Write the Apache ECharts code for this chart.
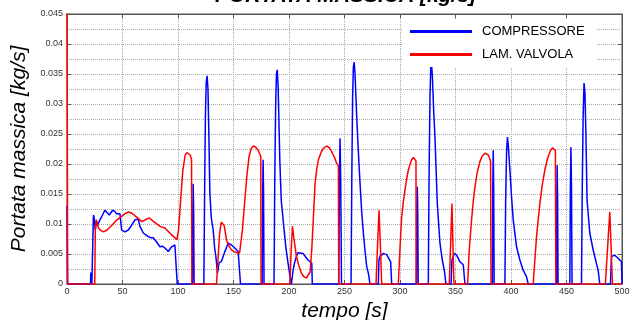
<!DOCTYPE html>
<html>
<head>
<meta charset="utf-8">
<script src="https://cdn.jsdelivr.net/npm/echarts@6/dist/echarts.min.js"></script>
<style>
  html, body { margin: 0; padding: 0; background: #fff; }
  #chart { width: 630px; height: 320px; }
</style>
</head>
<body>
<div id="chart"></div>
<script>
// [tempo s, portata kg/s]
const compressore = [
  [0, 0.013], [0.5, 0], [21.2, 0], [21.5, 0.0019], [22, 0.0019], [22.4, 0],
  [23.5, 0], [23.8, 0.0115], [24.5, 0.011], [25.5, 0.009], [26.5, 0.0105], [27.5, 0.0098],
  [29.7, 0.0107], [32, 0.0115], [34.2, 0.0123], [36, 0.0121], [38.1, 0.0115], [41.1, 0.0123],
  [43, 0.0121], [44.7, 0.0117], [47.7, 0.0117], [49.2, 0.009], [52.2, 0.0087], [55.2, 0.009],
  [58.2, 0.0098], [61.2, 0.0107], [64.2, 0.0108], [65.7, 0.0096], [68.7, 0.0085], [70.5, 0.0082],
  [73.2, 0.0079], [75.5, 0.0077], [77.7, 0.0077], [80.7, 0.007], [83.7, 0.0062], [86, 0.0063],
  [88.2, 0.006], [91.2, 0.0054], [94.2, 0.0062], [97.2, 0.0065], [98.7, 0.0062], [99.3, 0],
  [113, 0], [113.4, 0.012], [113.7, 0.0167], [114.1, 0.012], [114.5, 0],
  [123.3, 0], [124, 0.016], [124.7, 0.028], [125.4, 0.0335], [126.2, 0.0347], [127, 0.0325],
  [127.8, 0.025], [128.7, 0.0151], [130, 0.011], [131.7, 0.009], [133, 0.006], [134.1, 0.0046],
  [135.6, 0.0018], [137, 0.0035], [139.2, 0.0038], [140.5, 0.0045], [142.2, 0.0054], [145.2, 0.0068],
  [148.2, 0.0065], [151.2, 0.006], [154.2, 0.0054], [155.7, 0.0054], [156.3, 0],
  [175.8, 0], [176.3, 0.015], [176.7, 0.0207], [177.1, 0.015], [177.5, 0],
  [186.5, 0], [187.2, 0.018], [188, 0.03], [188.7, 0.035], [189.4, 0.0357], [190.2, 0.033],
  [191.7, 0.0207], [193, 0.014], [194.7, 0.0107], [197.1, 0.0062], [199.2, 0.0034], [200.7, 0.0015],
  [202.2, 0], [203.7, 0.0023], [205, 0.0035], [206.7, 0.0046], [208, 0.0052], [209.7, 0.0054],
  [212.7, 0.0051], [215, 0.0045], [217.2, 0.004], [219, 0.0037], [220.5, 0.0035], [221, 0],
  [244.8, 0], [245.4, 0.017], [246, 0.0243], [246.6, 0.017], [247.3, 0],
  [255.9, 0], [256.6, 0.018], [257.3, 0.031], [258, 0.0362], [258.7, 0.037], [259.5, 0.035],
  [261, 0.0279], [262.5, 0.022], [264, 0.0168], [265.5, 0.012], [267, 0.0085], [268.5, 0.0055],
  [270, 0.0029], [271.5, 0.0018], [273, 0],
  [280.5, 0], [281, 0.004], [282, 0.0046], [283.5, 0.0049], [285, 0.0051], [286.5, 0.0051],
  [288, 0.0049], [289.5, 0.0046], [291.6, 0.0037], [292.5, 0],
  [314.8, 0], [315.2, 0.012], [315.6, 0.0162], [316, 0.012], [316.4, 0],
  [325.5, 0], [326.2, 0.018], [327, 0.031], [327.7, 0.036], [328.4, 0.0367], [329.2, 0.0345],
  [330.3, 0.029], [331.5, 0.0245], [333.6, 0.0134], [336, 0.0068], [338.1, 0.004], [339.9, 0.0023],
  [341.4, 0],
  [346, 0], [346.8, 0.004], [348.9, 0.0051], [351, 0.0048], [354, 0.0037], [357, 0.0032], [358.5, 0],
  [383.2, 0], [383.6, 0.016], [384, 0.0223], [384.4, 0.016], [384.8, 0],
  [394.5, 0], [395.2, 0.014], [396, 0.022], [396.8, 0.0245], [397.6, 0.023], [399, 0.019],
  [400.5, 0.0145], [402, 0.0107], [405, 0.0062], [408, 0.004], [411, 0.0023], [414, 0.0012], [415.5, 0],
  [441, 0], [441.3, 0.014], [441.6, 0.0198], [442, 0.014], [442.4, 0],
  [453, 0], [453.5, 0.016], [454, 0.0228], [454.5, 0.016], [455, 0],
  [463.5, 0], [464.2, 0.016], [465, 0.028], [465.8, 0.0335], [466.6, 0.032], [467.5, 0.025],
  [468.5, 0.014], [471, 0.0085], [474, 0.0057], [477, 0.0034], [478.5, 0.0023], [480, 0],
  [489.6, 0], [490.5, 0.0046], [492, 0.0049], [493.5, 0.0048], [496.5, 0.0043], [499.5, 0.0037], [500, 0]
];

const valvola = [
  [0, 0.05], [0.6, 0], [25, 0], [25.5, 0.009], [26.3, 0.0107], [27, 0.0102], [28.5, 0.0093],
  [30.5, 0.0089], [33, 0.0087], [36, 0.009], [40.5, 0.0098], [45, 0.0107], [49.5, 0.0113],
  [53, 0.0118], [55.5, 0.012], [58.5, 0.0118], [63, 0.0111], [67.5, 0.0104], [70.5, 0.0107],
  [74.4, 0.011], [78, 0.0104], [84, 0.0096], [88.5, 0.0093], [93, 0.0084], [99, 0.0074],
  [100.5, 0.009], [102.6, 0.0146], [104.4, 0.019], [106.5, 0.0215], [108, 0.0219], [109.5, 0.0219],
  [111, 0.0215], [112.2, 0.0207], [112.5, 0],
  [134.7, 0], [136, 0.004], [137.5, 0.0085], [139, 0.0103], [140.1, 0.0106], [141.5, 0.0098],
  [143.7, 0.0073], [146, 0.0063], [148.2, 0.0057], [150.5, 0.0054], [153, 0.0052], [155.5, 0.0052],
  [158, 0.009], [160, 0.0135], [162, 0.018], [164, 0.0212], [166, 0.0226], [168, 0.023],
  [170, 0.0228], [172.5, 0.0222], [174.6, 0.0212], [174.8, 0],
  [200.8, 0], [201.8, 0.005], [203.1, 0.0096], [204.5, 0.0075], [206.7, 0.0046], [209, 0.003],
  [211.2, 0.0018], [213.5, 0.0012], [215.7, 0.001], [217.5, 0.0013], [219, 0.002], [220.5, 0.0057],
  [222, 0.0112], [223.5, 0.0168], [225, 0.0192], [226.5, 0.0207], [229, 0.022], [231, 0.0226],
  [234, 0.023], [236.5, 0.0227], [238.5, 0.022], [241, 0.0211], [243, 0.0201], [244.5, 0.0197], [244.8, 0],
  [278.4, 0], [279.8, 0.0065], [281.1, 0.0123], [282.3, 0.0065], [283.5, 0],
  [298.5, 0], [300, 0.006], [301.5, 0.0112], [303, 0.0137], [304.5, 0.0157], [306, 0.0175],
  [307.5, 0.019], [309, 0.0199], [310.5, 0.0207], [312, 0.0211], [313.5, 0.0212], [314.4, 0.0205], [314.5, 0],
  [344.4, 0], [345.6, 0.0065], [346.8, 0.0134], [347.7, 0.0065], [348.6, 0],
  [360.9, 0], [362.5, 0.006], [364.5, 0.0107], [366, 0.0138], [367.5, 0.0162], [369.5, 0.0185],
  [372, 0.0204], [374, 0.0213], [376.5, 0.0218], [378, 0.0218], [379.5, 0.0215], [380.7, 0.021],
  [381.6, 0.0204], [382, 0],
  [420, 0], [421.5, 0.004], [423, 0.0079], [426, 0.0134], [428, 0.0163], [430.5, 0.019],
  [433, 0.021], [435.5, 0.0222], [437.5, 0.0227], [439, 0.0226], [440, 0.0222], [440.4, 0],
  [485, 0], [487, 0.006], [489, 0.012], [490.2, 0.006], [491.4, 0], [500, 0]
];

const FONT = 'Liberation Sans, Arial, sans-serif';

const axisBase = {
  type: 'value',
  axisLine: { show: true, onZero: false, lineStyle: { color: '#555', width: 1 } },
  axisTick: { show: true, inside: true, length: 4, lineStyle: { color: '#555' } },
  axisLabel: { color: '#333', fontSize: 9, fontFamily: FONT },
  splitLine: { show: false },
};

const chart = echarts.init(document.getElementById('chart'));
chart.setOption({
  animation: false,
  title: {
    text: 'PORTATA MASSICA [kg/s]',
    left: 210,
    top: -19,
    textStyle: { fontSize: 21, fontWeight: 'bold', fontStyle: 'italic', color: '#000', fontFamily: FONT },
  },
  legend: {
    orient: 'vertical',
    left: 402,
    top: 19,
    icon: 'rect',
    itemWidth: 62,
    itemHeight: 3,
    itemGap: 10,
    padding: [6, 12, 6, 8],
    backgroundColor: '#fff',
    textStyle: { fontSize: 13, color: '#000', fontFamily: FONT, padding: [0, 0, 0, 5] },
    data: ['COMPRESSORE', 'LAM. VALVOLA'],
  },
  grid: {
    left: 67, right: 8, top: 14, bottom: 36,
    outerBoundsMode: 'none',
    containLabel: false,
    show: true, borderColor: '#555', borderWidth: 1, backgroundColor: '#fff',
  },
  xAxis: [
    {
      ...axisBase,
      min: 0, max: 500, interval: 50,
      name: 'tempo [s]',
      nameLocation: 'middle',
      nameGap: 17,
      nameTextStyle: { fontSize: 21, fontStyle: 'italic', color: '#000', fontFamily: FONT },
      axisLabel: { ...axisBase.axisLabel, margin: 3 },
      splitLine: { show: true, lineStyle: { type: 'dotted', color: '#aaa' } },
    },
    {
      ...axisBase, position: 'top',
      min: 0, max: 500, interval: 50,
      axisLabel: { show: false },
    },
  ],
  yAxis: [
    {
      ...axisBase,
      min: 0, max: 0.045, interval: 0.005,
      name: 'Portata massica [kg/s]',
      nameLocation: 'middle',
      nameGap: 34,
      nameTextStyle: { fontSize: 21, fontStyle: 'italic', color: '#000', fontFamily: FONT },
      axisLabel: { ...axisBase.axisLabel, margin: 4 },
      splitLine: { show: true, lineStyle: { type: 'dotted', color: '#aaa' } },
      minorTick: { show: false, splitNumber: 2 },
      minorSplitLine: { show: true, lineStyle: { type: 'dotted', color: '#aaa' } },
    },
    {
      ...axisBase, position: 'right',
      min: 0, max: 0.045, interval: 0.005,
      axisLabel: { show: false },
    },
  ],
  series: [
    {
      name: 'COMPRESSORE',
      type: 'line',
      data: compressore,
      symbol: 'none',
      color: '#0000ff',
      lineStyle: { width: 1.5, color: '#0000ff' },
    },
    {
      name: 'LAM. VALVOLA',
      type: 'line',
      data: valvola,
      symbol: 'none',
      color: '#ff0000',
      lineStyle: { width: 1.5, color: '#ff0000' },
    },
  ],
});
</script>
</body>
</html>
